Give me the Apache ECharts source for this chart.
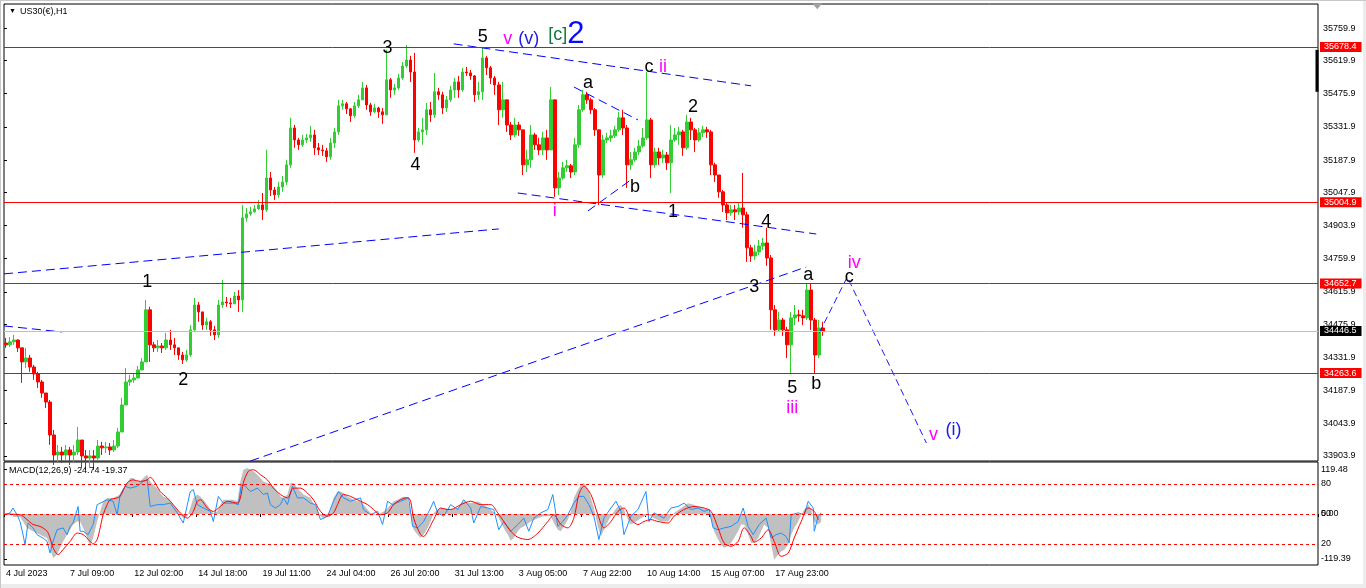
<!DOCTYPE html>
<html><head><meta charset="utf-8">
<script src="https://cdn.jsdelivr.net/npm/echarts@6/dist/echarts.min.js"></script>
<style>html,body{margin:0;padding:0;background:#fff}#c{width:1366px;height:588px}</style>
</head><body><div id="c"></div>
<script>
// ---------- DATA ----------
const tickLabels = ["4 Jul 2023","7 Jul 09:00","12 Jul 02:00","14 Jul 18:00","19 Jul 11:00","24 Jul 04:00","26 Jul 20:00","31 Jul 13:00","3 Aug 05:00","7 Aug 22:00","10 Aug 14:00","15 Aug 07:00","17 Aug 23:00"];
const priceTicks = [35759.9,35619.9,35475.9,35331.9,35187.9,35047.9,34903.9,34759.9,34615.9,34475.9,34331.9,34187.9,34043.9,33903.9];
const levelPrices = [35678.4,35004.9,34652.7,34263.6];
const lastPrice = 34446.5;
const macdTicks = [119.48,0,-119.39];
const macdTickLabels = ["119.48","50","-119.39"];
const macdLevels = [80,0,-80];
const macdLevelLabels = ["80","0.00","20"];

// 4-hour candles (each slot = 4 hourly bars)
const candleOpen = [
34394,34386,34399,34407,34373,34312,34329,34290,34260,34225,
34177,34138,33995,33908,33921,33908,33930,33908,33921,33973,
33904,33895,33904,33895,33947,33939,33943,33930,33947,34008,
34125,34225,34234,34242,34277,34312,34538,34386,34373,34381,
34373,34407,34386,34373,34342,34321,34342,34451,34559,34529,
34472,34486,34451,34429,34559,34572,34568,34564,34598,34581,
34937,34954,34963,34976,34993,34972,35110,35058,35037,35071,
35093,35167,35327,35275,35254,35275,35284,35297,35241,35232,
35228,35202,35262,35310,35423,35432,35410,35380,35423,35449,
35501,35427,35397,35414,35397,35384,35536,35492,35501,35544,
35596,35622,35570,35275,35310,35319,35406,35384,35484,35471,
35414,35449,35492,35527,35492,35570,35566,35553,35471,35484,
35631,35588,35544,35514,35406,35449,35340,35297,35340,35319,
35167,35189,35297,35254,35232,35284,35232,35449,35067,35110,
35154,35163,35136,35254,35406,35471,35449,35406,35319,35123,
35275,35284,35293,35319,35371,35327,35167,35189,35223,35249,
35284,35362,35167,35223,35197,35210,35176,35275,35297,35310,
35241,35353,35319,35275,35306,35319,35310,35167,35123,35050,
34993,34959,34972,34963,34980,34950,34807,34772,34789,34815,
34828,34763,34538,34451,34494,34451,34386,34503,34516,34512,
34503,34624,34494,34342,34459];
const candleClose = [
34386,34399,34407,34373,34312,34329,34290,34260,34225,34177,
34138,33995,33908,33921,33908,33930,33908,33921,33973,33904,
33895,33904,33895,33947,33939,33943,33930,33947,34008,34125,
34225,34234,34242,34277,34312,34538,34386,34373,34381,34373,
34407,34386,34373,34342,34321,34342,34451,34559,34529,34472,
34486,34451,34429,34559,34572,34568,34564,34598,34581,34937,
34954,34963,34976,34993,34972,35110,35058,35037,35071,35093,
35167,35327,35275,35254,35275,35284,35297,35241,35232,35228,
35202,35262,35310,35423,35432,35410,35380,35423,35449,35501,
35427,35397,35414,35397,35384,35536,35492,35501,35544,35596,
35622,35570,35275,35310,35319,35406,35384,35484,35471,35414,
35449,35492,35527,35492,35570,35566,35553,35471,35484,35631,
35588,35544,35514,35406,35449,35340,35297,35340,35319,35167,
35189,35297,35254,35232,35284,35232,35449,35067,35110,35154,
35163,35136,35254,35406,35471,35449,35406,35319,35123,35275,
35284,35293,35319,35371,35327,35167,35189,35223,35249,35284,
35362,35167,35223,35197,35210,35176,35275,35297,35310,35241,
35353,35319,35275,35306,35319,35310,35167,35123,35050,34993,
34959,34972,34963,34980,34950,34807,34772,34789,34815,34828,
34763,34538,34451,34494,34451,34386,34503,34516,34512,34503,
34624,34494,34342,34459,34446];
const candleLow = [
34373,34377,34386,34355,34221,34286,34269,34234,34199,34156,
34112,33952,33865,33878,33874,33887,33865,33878,33908,33852,
33843,33852,33843,33887,33908,33917,33908,33921,33939,34008,
34125,34208,34221,34242,34277,34312,34312,34355,34355,34351,
34364,34364,34342,34321,34303,34312,34334,34442,34486,34451,
34451,34425,34407,34416,34546,34551,34546,34564,34529,34529,
34920,34946,34959,34972,34928,34963,35032,35015,35024,35050,
35080,35154,35241,35232,35245,35262,35267,35210,35210,35206,
35180,35189,35241,35297,35406,35388,35353,35371,35414,35449,
35406,35380,35393,35371,35345,35384,35458,35471,35492,35536,
35588,35527,35219,35267,35254,35297,35353,35371,35449,35388,
35397,35440,35458,35458,35484,35553,35536,35440,35449,35449,
35557,35518,35471,35340,35371,35310,35275,35288,35293,35123,
35136,35154,35232,35210,35210,35189,35232,35028,35037,35102,
35136,35110,35123,35241,35397,35432,35388,35293,34993,35110,
35262,35267,35284,35310,35297,35067,35145,35180,35210,35241,
35275,35110,35154,35167,35176,35145,35045,35267,35254,35206,
35232,35275,35223,35267,35288,35284,35123,35093,35024,34963,
34928,34946,34928,34950,34894,34746,34746,34755,34776,34798,
34729,34451,34425,34442,34425,34329,34264,34472,34486,34472,
34494,34451,34264,34329,34425];
const candleHigh = [
34416,34420,34429,34410,34373,34373,34342,34299,34269,34234,
34177,34147,34017,33952,33943,33952,33943,33952,34030,33973,
33930,33930,33930,33973,33965,33965,33960,33973,34025,34156,
34286,34255,34264,34295,34329,34581,34551,34399,34407,34394,
34438,34451,34416,34373,34355,34364,34472,34590,34572,34529,
34503,34494,34468,34581,34668,34594,34590,34616,34624,34993,
34980,34985,34993,35015,35045,35232,35136,35071,35093,35119,
35189,35371,35340,35284,35297,35301,35336,35319,35262,35254,
35241,35284,35327,35449,35449,35440,35414,35440,35471,35527,
35514,35436,35432,35419,35414,35666,35544,35518,35562,35614,
35687,35640,35653,35327,35371,35436,35440,35566,35501,35484,
35466,35510,35544,35553,35588,35592,35579,35557,35527,35674,
35640,35596,35553,35527,35527,35449,35353,35371,35353,35319,
35232,35340,35306,35284,35310,35319,35505,35449,35136,35180,
35189,35171,35284,35427,35492,35484,35458,35414,35319,35297,
35306,35319,35336,35397,35406,35340,35223,35241,35275,35327,
35570,35371,35241,35241,35232,35223,35340,35327,35332,35319,
35384,35371,35327,35327,35336,35332,35319,35176,35123,35058,
35002,34993,34993,35006,35132,34963,34820,34820,34841,34850,
34894,34776,34559,34529,34503,34464,34529,34559,34538,34538,
34650,34650,34503,34494,34486];

// MACD pane, [hourly bar index, value]
const macdHist = [[9,-8],[16,-8],[19,-20],[23,-37],[29,-46],[36,-55],[43,-64],[46,-90],[49,-117],[53,-108],[56,-90],[59,-73],[63,-55],[66,-42],[69,-28],[73,-20],[76,-20],[79,-37],[83,-64],[86,-86],[89,-64],[93,-20],[96,7],[99,34],[103,43],[109,43],[116,52],[119,69],[123,83],[126,96],[129,96],[133,87],[136,87],[139,96],[143,105],[146,87],[149,78],[153,69],[156,56],[159,47],[163,43],[166,34],[169,25],[173,12],[176,-2],[179,-11],[183,-6],[186,16],[189,43],[193,52],[196,47],[199,38],[203,25],[206,12],[209,3],[213,7],[216,25],[219,38],[223,38],[229,38],[233,34],[236,87],[239,118],[243,123],[246,118],[249,114],[253,105],[256,96],[259,87],[263,83],[266,78],[269,74],[273,60],[276,47],[279,43],[283,52],[286,83],[289,83],[293,69],[296,60],[299,52],[303,47],[306,43],[309,29],[313,12],[316,-6],[319,-11],[323,-6],[326,12],[329,43],[333,60],[336,60],[339,56],[343,47],[346,43],[349,38],[353,34],[356,34],[359,25],[363,12],[366,3],[369,-2],[373,-2],[376,3],[379,7],[383,16],[386,25],[389,34],[393,38],[396,43],[399,47],[403,43],[406,3],[409,-42],[413,-55],[416,-64],[419,-55],[423,-37],[426,-20],[429,3],[433,12],[436,16],[439,16],[446,12],[453,16],[459,34],[466,29],[473,34],[479,25],[486,12],[493,-6],[499,-37],[503,-55],[506,-71],[509,-64],[513,-46],[516,-37],[519,-33],[526,-20],[533,-11],[539,-6],[546,-6],[549,-24],[553,-42],[556,-46],[559,-33],[563,-15],[566,7],[569,43],[573,65],[576,78],[579,83],[583,69],[586,43],[589,16],[593,-33],[596,-60],[599,-42],[603,-20],[606,-6],[609,7],[613,20],[616,25],[619,12],[623,-15],[626,-28],[629,-24],[636,-11],[643,-2],[649,-11],[656,-20],[663,-20],[669,3],[676,16],[683,29],[689,25],[696,16],[703,12],[706,-11],[709,-46],[713,-68],[716,-82],[719,-90],[723,-86],[726,-77],[729,-64],[733,-46],[736,-28],[739,-28],[743,-55],[746,-77],[749,-77],[753,-64],[756,-46],[759,-28],[763,-37],[766,-82],[769,-122],[773,-108],[776,-100],[779,-95],[783,-82],[786,-55],[789,-37],[793,-20],[796,-2],[799,12],[803,25],[806,12],[809,-20],[813,-28],[816,-20]];
const macdSignal = [[1,0],[16,-2],[23,-15],[29,-28],[36,-33],[43,-46],[46,-64],[49,-90],[54,-108],[59,-95],[66,-73],[73,-51],[79,-55],[86,-73],[89,-80],[93,-68],[96,-37],[99,-2],[103,25],[106,38],[113,43],[116,47],[123,83],[129,91],[136,87],[143,91],[146,98],[149,91],[156,60],[163,43],[169,25],[176,3],[183,-11],[189,7],[193,34],[196,38],[203,16],[209,7],[216,20],[223,34],[233,29],[236,43],[239,83],[244,114],[249,118],[256,105],[263,91],[269,69],[276,52],[283,43],[289,69],[296,69],[303,56],[309,38],[316,7],[323,-6],[329,3],[333,25],[339,52],[346,47],[356,34],[363,25],[369,12],[376,-2],[383,3],[389,25],[396,38],[403,44],[406,34],[409,-11],[416,-55],[419,-60],[423,-46],[429,-15],[436,16],[443,12],[446,12],[456,25],[466,34],[476,25],[486,25],[493,3],[499,-20],[506,-46],[513,-62],[523,-68],[533,-51],[543,-20],[549,-2],[556,-28],[563,-37],[569,-11],[574,52],[579,74],[586,52],[593,-2],[599,-37],[606,-20],[613,7],[619,16],[626,-15],[633,-28],[639,-20],[646,-15],[653,-20],[663,-24],[669,-6],[679,12],[689,20],[699,16],[706,7],[713,-37],[719,-77],[726,-86],[733,-73],[739,-37],[746,-60],[749,-75],[756,-64],[763,-42],[769,-73],[776,-113],[783,-104],[789,-64],[796,-20],[803,16],[809,7],[813,-15]];
const macdFast = [[1,-2],[6,3],[9,16],[13,-2],[16,-20],[19,-55],[21,-82],[24,-24],[29,-37],[33,-55],[36,-60],[39,-64],[43,-73],[46,-104],[49,-73],[53,-42],[59,-37],[63,-55],[66,-33],[69,-24],[74,20],[76,-46],[79,-46],[84,-55],[89,-28],[93,25],[96,29],[103,38],[109,34],[113,-2],[116,52],[121,74],[126,69],[133,74],[139,87],[143,91],[146,20],[153,25],[159,25],[166,29],[173,3],[179,-24],[186,60],[189,65],[193,25],[199,16],[206,7],[209,-20],[214,47],[219,29],[229,29],[234,25],[237,78],[241,74],[246,60],[253,69],[259,52],[263,56],[266,25],[271,16],[276,25],[279,43],[283,25],[288,74],[293,43],[299,43],[306,29],[311,25],[316,-15],[323,-6],[329,34],[334,60],[339,43],[346,34],[356,43],[359,12],[366,-2],[373,7],[378,-28],[383,34],[388,25],[396,34],[404,43],[408,-33],[413,-37],[419,-20],[426,16],[429,34],[433,3],[439,-6],[444,16],[446,25],[453,12],[459,38],[466,16],[469,-24],[476,20],[483,16],[489,12],[494,-42],[499,-20],[506,-46],[513,-28],[519,-11],[524,-46],[529,-11],[536,3],[543,12],[548,52],[553,-33],[558,-20],[563,-2],[569,29],[574,47],[579,47],[584,25],[589,-6],[594,-68],[599,-11],[606,16],[611,34],[616,7],[619,-55],[626,-6],[633,12],[641,60],[644,-20],[649,3],[659,-11],[666,16],[673,20],[679,29],[686,12],[693,16],[699,7],[704,12],[708,-37],[713,-42],[719,-37],[726,-33],[733,-20],[738,16],[743,-33],[748,-55],[754,-28],[761,-11],[766,-64],[771,-55],[776,-51],[781,-60],[784,-77],[786,-2],[793,3],[799,-2],[803,34],[808,16],[809,-46],[813,-6],[816,3]];

// trend lines: [hourly bar, price] points
const trendLines = [
  [[0,34694],[494,34889]],
  [[0,34468],[58,34442]],
  [[246,33882],[801,34724]],
  [[449,35692],[746,35510]],
  [[513,35045],[811,34867]],
  [[569,35505],[633,35362]],
  [[583,34967],[626,35102]]
];
const projection = [[814,34438],[842,34681],[921,33960]];

// wave labels
const waveTexts  = ['1','2','3','4','5','v','(v)','[c]','2','a','c','ii','i','b','1','2','4','3','a','c','iv','5','iii','b','v','(i)'];
const waveBars   = [143,179,383,411,478,503,524,553,571,583,644,658,550,630,668,688,761,749,803,844,849,787,787,811,928,948];
const wavePrices = [34659,34234,35675,35167,35722,35714,35714,35731,35735,35523,35592,35592,34967,35071,34963,35419,34920,34637,34689,34681,34742,34199,34112,34216,33995,34017];
const waveKinds  = ['k','k','k','k','k','m','b','g','B','k','k','m','m','k','k','k','k','k','k','k','m','k','m','k','m','b'];

// ---------- CHART ----------
const FONT = '"Liberation Sans", Arial, sans-serif';
const SLOTS = 328;
const categories = Array.from({length: SLOTS}, (_, i) => i);
const candles = candleOpen.map((o, i) => [o, candleClose[i], candleLow[i], candleHigh[i]]);
const kindStyle = {
  k: {color: '#000000', fontSize: 18},
  m: {color: '#ff00ff', fontSize: 18},
  b: {color: '#1c1ce6', fontSize: 18},
  g: {color: '#0b7a3c', fontSize: 18},
  B: {color: '#0a0aff', fontSize: 31}
};
const small = {fontFamily: FONT, fontSize: 9, color: '#000'};

const series = [];
series.push({
  type: 'candlestick', xAxisIndex: 0, yAxisIndex: 0, data: candles, barWidth: 3, clip: true,
  itemStyle: {color: '#32cd32', color0: '#ff0000', borderColor: '#32cd32', borderColor0: '#ff0000', borderWidth: 1},
  markLine: {
    symbol: 'none', silent: true, animation: false,
    data: levelPrices.map(v => ({yAxis: v, lineStyle: {color: '#ff0000', width: 1, type: 'solid'},
      label: {show: true, position: 'end', distance: 2, formatter: v.toFixed(1), backgroundColor: '#ff0000', color: '#fff', padding: [1, 5, 0, 4], fontSize: 9, fontFamily: FONT}}))
      .concat([{yAxis: lastPrice, lineStyle: {color: '#c0c0c0', width: 1, type: 'solid'},
      label: {show: true, position: 'end', distance: 2, formatter: lastPrice.toFixed(1), backgroundColor: '#000', color: '#fff', padding: [1, 5, 0, 4], fontSize: 9, fontFamily: FONT}}])
  }
});
trendLines.forEach(seg => series.push({
  type: 'line', xAxisIndex: 2, yAxisIndex: 0, data: seg, symbol: 'none', silent: true,
  lineStyle: {color: '#0000ff', width: 1, type: [9, 5]}
}));
series.push({
  type: 'line', xAxisIndex: 2, yAxisIndex: 0, data: projection, symbol: 'none', silent: true,
  lineStyle: {color: '#1a1aff', width: 1, type: [7, 4]}
});
series.push({
  type: 'scatter', xAxisIndex: 2, yAxisIndex: 0, symbolSize: 1, silent: true, z: 5,
  itemStyle: {color: 'rgba(0,0,0,0)', opacity: 1},
  data: waveTexts.map((t, i) => ({
    value: [waveBars[i], wavePrices[i]],
    label: {show: true, position: 'inside', formatter: t, fontFamily: FONT, textBorderWidth: 0, opacity: 1,
      color: kindStyle[waveKinds[i]].color, fontSize: kindStyle[waveKinds[i]].fontSize}
  }))
});
// chart-shift marker and right edge bar (window decorations)
series.push({
  type: 'scatter', xAxisIndex: 2, yAxisIndex: 0, silent: true, symbol: 'triangle', symbolRotate: 180,
  symbolSize: [10, 6], itemStyle: {color: '#a0a0a0', opacity: 1}, data: [[812, 35855]]
});
series.push({
  type: 'line', xAxisIndex: 2, yAxisIndex: 0, silent: true, symbol: 'none', clip: false,
  lineStyle: {color: '#000', width: 3}, data: [[1311, 35666], [1311, 35484]]
});
// MACD
series.push({
  type: 'line', xAxisIndex: 3, yAxisIndex: 1, data: macdHist, symbol: 'none', silent: true,
  lineStyle: {width: 0}, areaStyle: {color: '#c0c0c0', opacity: 1}
});
series.push({
  type: 'line', xAxisIndex: 3, yAxisIndex: 1, data: macdFast, symbol: 'none', silent: true,
  lineStyle: {color: '#1e90ff', width: 1}
});
series.push({
  type: 'line', xAxisIndex: 3, yAxisIndex: 1, data: macdSignal, symbol: 'none', silent: true, smooth: 0.3,
  lineStyle: {color: '#ff0000', width: 1},
  markLine: {
    symbol: 'none', silent: true, animation: false,
    data: macdLevels.map((v, i) => ({yAxis: v, lineStyle: {color: '#ff0000', width: 1, type: [3, 3]},
      label: {show: true, position: 'end', distance: 3, formatter: macdLevelLabels[i], color: '#000', fontSize: 9, fontFamily: FONT}}))
  }
});

const option = {
  animation: false,
  backgroundColor: '#ffffff',
  textStyle: {fontFamily: FONT},
  title: [
    {text: '▼', left: 9, top: 8, padding: 0, textStyle: {fontSize: 7, color: '#000', fontWeight: 'normal', fontFamily: FONT}},
    {text: 'US30(€),H1', left: 20, top: 7, padding: 0, textStyle: {fontSize: 9, color: '#000', fontWeight: 'normal', fontFamily: FONT}},
    {text: 'MACD(12,26,9) -24.74 -19.37', left: 9, top: 466, padding: 0, textStyle: {fontSize: 9, color: '#000', fontWeight: 'normal', fontFamily: FONT}}
  ],
  grid: [
    {left: 4, top: 4, width: 1314, height: 457, show: true, borderColor: '#000', borderWidth: 1, backgroundColor: '#fff'},
    {left: 4, top: 462, width: 1314, height: 103, show: true, borderColor: '#000', borderWidth: 1, backgroundColor: '#fff'}
  ],
  xAxis: [
    {type: 'category', gridIndex: 0, data: categories, boundaryGap: true, axisLine: {show: false}, axisTick: {show: false}, axisLabel: {show: false}, splitLine: {show: false}},
    {type: 'category', gridIndex: 1, data: categories, boundaryGap: true, axisLine: {show: false},
      axisTick: {show: true, length: 3, interval: (i) => i % 16 === 0 && i / 16 < tickLabels.length, lineStyle: {color: '#000'}},
      axisLabel: {show: true, interval: (i) => i % 16 === 0 && i / 16 < tickLabels.length, formatter: (v, i) => tickLabels[i / 16] || '', align: 'left', margin: 4, ...small},
      splitLine: {show: false}},
    {type: 'value', gridIndex: 0, min: 0, max: 1312, show: false},
    {type: 'value', gridIndex: 1, min: 0, max: 1312, show: false}
  ],
  yAxis: [
    {type: 'value', gridIndex: 0, position: 'right', min: 33882, max: 35865, splitLine: {show: false}, axisLine: {show: false},
      axisTick: {show: true, length: 3, customValues: priceTicks, lineStyle: {color: '#000'}},
      axisLabel: {show: true, customValues: priceTicks, formatter: v => v.toFixed(1), margin: 5, ...small}},
    {type: 'value', gridIndex: 1, position: 'right', min: -136, max: 138.7, splitLine: {show: false}, axisLine: {show: false},
      axisTick: {show: true, length: 3, customValues: [119.48, -119.39], lineStyle: {color: '#000'}},
      axisLabel: {show: true, customValues: macdTicks, formatter: v => macdTickLabels[macdTicks.indexOf(v)] ?? '', margin: 3, ...small}}
  ],
  graphic: [
    {type: 'rect', silent: true, shape: {x: 1363, y: 0, width: 3, height: 588}, style: {fill: '#ececec'}},
    {type: 'rect', silent: true, shape: {x: 0, y: 584, width: 1366, height: 4}, style: {fill: '#ececec'}},
    {type: 'rect', silent: true, shape: {x: 0, y: 0, width: 1366, height: 1}, style: {fill: '#c8c8c8'}},
    {type: 'rect', silent: true, shape: {x: 0, y: 0, width: 1, height: 588}, style: {fill: '#c8c8c8'}}
  ],
  series: series
};
const chart = echarts.init(document.getElementById('c'), null, {renderer: 'canvas'});
chart.setOption(option);
</script>
</body></html>
